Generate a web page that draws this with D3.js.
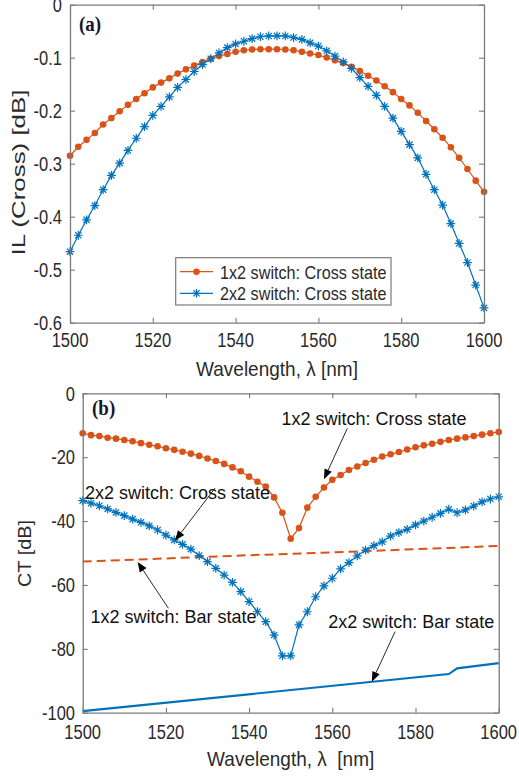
<!DOCTYPE html>
<html><head><meta charset="utf-8">
<script src="https://cdn.jsdelivr.net/npm/d3@7"></script>
<style>body{margin:0;background:#fff} svg{display:block}</style>
</head><body>
<script>
// ---------------- data ----------------
const wavelength = [1500,1502,1504,1506,1508,1510,1512,1514,1516,1518,1520,1522,1524,1526,1528,1530,1532,1534,1536,1538,1540,1542,1544,1546,1548,1550,1552,1554,1556,1558,1560,1562,1564,1566,1568,1570,1572,1574,1576,1578,1580,1582,1584,1586,1588,1590,1592,1594,1596,1598,1600];
const il1x2Cross = [-0.285,-0.268,-0.255,-0.242,-0.226,-0.214,-0.201,-0.189,-0.178,-0.167,-0.156,-0.147,-0.139,-0.130,-0.122,-0.115,-0.108,-0.102,-0.097,-0.093,-0.089,-0.086,-0.0845,-0.084,-0.084,-0.084,-0.0845,-0.086,-0.089,-0.092,-0.095,-0.0996,-0.105,-0.110,-0.117,-0.125,-0.134,-0.143,-0.154,-0.165,-0.178,-0.190,-0.204,-0.2195,-0.235,-0.251,-0.269,-0.289,-0.310,-0.332,-0.353];
const il2x2Cross = [-0.466,-0.435,-0.406,-0.379,-0.349,-0.322,-0.299,-0.275,-0.252,-0.230,-0.209,-0.192,-0.174,-0.156,-0.141,-0.126,-0.113,-0.102,-0.091,-0.081,-0.074,-0.069,-0.064,-0.0605,-0.059,-0.0587,-0.059,-0.062,-0.0655,-0.072,-0.078,-0.087,-0.097,-0.108,-0.120,-0.1375,-0.154,-0.171,-0.192,-0.214,-0.239,-0.264,-0.289,-0.320,-0.349,-0.378,-0.413,-0.4505,-0.4865,-0.529,-0.572];
const ct1x2Cross = [-12.5,-13.1,-13.4,-13.9,-14.2,-14.6,-15.0,-15.6,-16.1,-16.6,-17.2,-17.7,-18.3,-18.9,-19.6,-20.4,-21.2,-22.1,-23.2,-24.4,-26.1,-27.7,-29.2,-32.6,-37.4,-45.5,-42.2,-35.8,-32.4,-29.5,-27.1,-25.6,-24.0,-22.9,-21.8,-20.8,-19.8,-19.1,-18.4,-17.6,-16.9,-16.3,-15.8,-15.2,-14.6,-14.2,-13.8,-13.4,-12.95,-12.5,-12.1];
const ct2x2Cross = [-33.6,-34.4,-35.2,-36.2,-37.3,-38.3,-39.4,-40.4,-41.5,-42.8,-44.4,-45.9,-47.3,-48.8,-50.8,-52.7,-54.8,-56.9,-59.2,-62.1,-65.2,-68.4,-71.5,-75.7,-82.2,-82.2,-72.5,-68.4,-63.7,-60.3,-57.9,-55.0,-53.0,-50.9,-49.1,-47.7,-46.5,-44.7,-43.6,-42.6,-41.2,-40.0,-38.8,-37.6,-36.3,-37.4,-36.5,-35.3,-34.0,-33.1,-32.4];
const ct1x2BarWl = [1500,1520,1540,1560,1580,1600];
const ct1x2Bar = [-52.7,-51.7,-50.7,-49.8,-48.8,-47.8];
const ct2x2BarWl = [1500,1588,1590,1600];
const ct2x2Bar = [-99.5,-87.9,-86.1,-84.5];
const xTicks = [1500,1520,1540,1560,1580,1600];
const ilTicks = [0,-0.1,-0.2,-0.3,-0.4,-0.5,-0.6];
const ctTicks = [0,-20,-40,-60,-80,-100];
const legendLabels = ["1x2 switch: Cross state","2x2 switch: Cross state"];
const annText = ["1x2 switch: Cross state","2x2 switch: Cross state","1x2 switch: Bar state","2x2 switch: Bar state"];
const annTextAt = [[1547.8,-9.9],[1500.55,-33.1],[1501.9,-71.9],[1559.0,-73.5]];
const annFrom = [[1563.6,-11.0],[1531.8,-29.7],[1520.6,-67.3],[1575.1,-74.6]];
const annTo = [[1558.0,-26.9],[1522.2,-46.1],[1513.2,-52.8],[1569.5,-90.3]];

// ---------------- styles ----------------
const ORANGE = "#D95319", BLUE = "#0072BD";
const FONT = "'Liberation Sans', Arial, sans-serif";
const AXC = "#7a7a7a", TXC = "#2a2a2a";

const svg = d3.select("body").append("svg").attr("width",519).attr("height",777)
  .style("font-family", FONT);

function txt(g, x, y, s, o) {
  const t = g.append("text")
    .attr("transform", `translate(${x},${y}) scale(1,${o.sy||1})`)
    .attr("font-size", o.size).attr("text-anchor", o.anchor||"start")
    .attr("fill", o.fill||TXC).style("white-space","pre").text(s);
  if (o.weight) t.attr("font-weight", o.weight);
  if (o.family) t.attr("font-family", o.family);
  return t;
}
function fmt(v){ return String(v); }

function frame(x, y, yTicks) {
  const g = svg.append("g");
  const [x0,x1] = x.range(), [y0,y1] = y.range();
  g.append("g").attr("transform",`translate(0,${y0})`).call(d3.axisBottom(x).tickValues(xTicks).tickSizeInner(-5).tickSizeOuter(0).tickFormat(""));
  g.append("g").attr("transform",`translate(0,${y1})`).call(d3.axisTop(x).tickValues(xTicks).tickSizeInner(-5).tickSizeOuter(0).tickFormat(""));
  g.append("g").attr("transform",`translate(${x0},0)`).call(d3.axisLeft(y).tickValues(yTicks).tickSizeInner(-5).tickSizeOuter(0).tickFormat(""));
  g.append("g").attr("transform",`translate(${x1},0)`).call(d3.axisRight(y).tickValues(yTicks).tickSizeInner(-5).tickSizeOuter(0).tickFormat(""));
  g.selectAll("path.domain").attr("stroke", AXC).attr("stroke-width",1.3);
  g.selectAll(".tick line").attr("stroke", AXC).attr("stroke-width",1.1);
  return g;
}

function star(g, cx, cy, color) {
  const r = 4.4, d = 3.1;
  g.append("path").attr("d",
    `M${cx-r},${cy}L${cx+r},${cy}M${cx},${cy-r}L${cx},${cy+r}M${cx-d},${cy-d}L${cx+d},${cy+d}M${cx-d},${cy+d}L${cx+d},${cy-d}`)
    .attr("stroke", color).attr("stroke-width",1.2).attr("fill","none");
}

// ---------------- top panel ----------------
const xA = d3.scaleLinear().domain([1500,1600]).range([70,484]);
const yA = d3.scaleLinear().domain([-0.6,0]).range([322.7,4.7]);
const gA = svg.append("g");
const lineA = (vals) => d3.line().x((d,i)=>xA(wavelength[i])).y(d=>yA(d))(vals);
gA.append("path").attr("d", lineA(il1x2Cross)).attr("fill","none").attr("stroke",ORANGE).attr("stroke-width",1.2);
gA.append("path").attr("d", lineA(il2x2Cross)).attr("fill","none").attr("stroke",BLUE).attr("stroke-width",1.2);
gA.selectAll("circle.o").data(il1x2Cross).join("circle")
  .attr("cx",(d,i)=>xA(wavelength[i])).attr("cy",d=>yA(d)).attr("r",3.3).attr("fill",ORANGE);
il2x2Cross.forEach((d,i)=>star(gA, xA(wavelength[i]), yA(d), BLUE));
frame(xA, yA, ilTicks);
xTicks.forEach(t=>txt(svg, xA(t), 347, fmt(t), {size:16.5, anchor:"middle", sy:1.2}));
ilTicks.forEach(t=>txt(svg, 62, yA(t)+7.2, fmt(t), {size:16.5, anchor:"end", sy:1.2}));
txt(svg, 277, 376, "Wavelength, λ [nm]", {size:19, anchor:"middle", sy:1.1});
svg.append("text").attr("transform","translate(25,172.5) rotate(-90)")
  .attr("font-size",19).attr("text-anchor","middle").attr("fill",TXC)
  .attr("textLength",166).attr("lengthAdjust","spacingAndGlyphs").text("IL (Cross) [dB]");
txt(svg, 79, 30.5, "(a)", {size:19, weight:"bold", family:"'Liberation Serif', 'Times New Roman', serif", fill:"#15152a", sy:1.1});

// legend
const lg = svg.append("g");
lg.append("rect").attr("x",175.7).attr("y",257.7).attr("width",215.3).attr("height",47.3)
  .attr("fill","#fff").attr("stroke",AXC).attr("stroke-width",1.2);
[271.7, 293.3].forEach((ly,i)=>{
  const c = i===0?ORANGE:BLUE;
  lg.append("line").attr("x1",180).attr("x2",213).attr("y1",ly).attr("y2",ly).attr("stroke",c).attr("stroke-width",1.2);
  if(i===0) lg.append("circle").attr("cx",196.5).attr("cy",ly).attr("r",3.3).attr("fill",c);
  else star(lg,196.5,ly,c);
  txt(lg, 220, ly+6.8, legendLabels[i], {size:16.2, sy:1.12});
});

// ---------------- bottom panel ----------------
const xB = d3.scaleLinear().domain([1500,1600]).range([82.7,498.7]);
const yB = d3.scaleLinear().domain([-100,0]).range([712.7,393.3]);
const gB = svg.append("g");
const lineB = (wl, vals) => d3.line().x((d,i)=>xB(wl[i])).y(d=>yB(d))(vals);
gB.append("path").attr("d", lineB(ct1x2BarWl, ct1x2Bar)).attr("fill","none").attr("stroke",ORANGE).attr("stroke-width",2).attr("stroke-dasharray","9,5");
gB.append("path").attr("d", lineB(ct2x2BarWl, ct2x2Bar)).attr("fill","none").attr("stroke",BLUE).attr("stroke-width",2.2);
gB.append("path").attr("d", lineB(wavelength, ct1x2Cross)).attr("fill","none").attr("stroke",ORANGE).attr("stroke-width",1.2);
gB.append("path").attr("d", lineB(wavelength, ct2x2Cross)).attr("fill","none").attr("stroke",BLUE).attr("stroke-width",1.2);
gB.selectAll("circle.o").data(ct1x2Cross).join("circle")
  .attr("cx",(d,i)=>xB(wavelength[i])).attr("cy",d=>yB(d)).attr("r",3.3).attr("fill",ORANGE);
ct2x2Cross.forEach((d,i)=>star(gB, xB(wavelength[i]), yB(d), BLUE));
frame(xB, yB, ctTicks);
xTicks.forEach(t=>txt(svg, xB(t), 739.3, fmt(t), {size:16.5, anchor:"middle", sy:1.2}));
ctTicks.forEach(t=>txt(svg, 75, yB(t)+7.2, fmt(t), {size:16.5, anchor:"end", sy:1.2}));
txt(svg, 290.7, 766, "Wavelength, λ  [nm]", {size:19, anchor:"middle", sy:1.1});
svg.append("text").attr("transform","translate(30.7,553.5) rotate(-90)")
  .attr("font-size",19).attr("text-anchor","middle").attr("fill",TXC)
  .attr("textLength",67).attr("lengthAdjust","spacingAndGlyphs").text("CT [dB]");
txt(svg, 92, 415, "(b)", {size:19, weight:"bold", family:"'Liberation Serif', 'Times New Roman', serif", fill:"#15152a", sy:1.1});

// annotations
const ga = svg.append("g");
annText.forEach((s,i)=>{
  txt(ga, xB(annTextAt[i][0]), yB(annTextAt[i][1]), s, {size:18, sy:1.03, fill:"#111"});
  const x0 = xB(annFrom[i][0]), y0 = yB(annFrom[i][1]);
  const x1 = xB(annTo[i][0]), y1 = yB(annTo[i][1]);
  const dx = x1-x0, dy = y1-y0, L = Math.hypot(dx,dy), ux = dx/L, uy = dy/L;
  const hl = 10, hw = 4;
  const bx = x1-ux*hl, by = y1-uy*hl;
  ga.append("line").attr("x1",x0).attr("y1",y0).attr("x2",bx).attr("y2",by).attr("stroke","#111").attr("stroke-width",0.9);
  ga.append("path").attr("d",`M${x1},${y1}L${bx-uy*hw},${by+ux*hw}L${bx+uy*hw},${by-ux*hw}Z`).attr("fill","#000");
});
</script>
</body></html>
